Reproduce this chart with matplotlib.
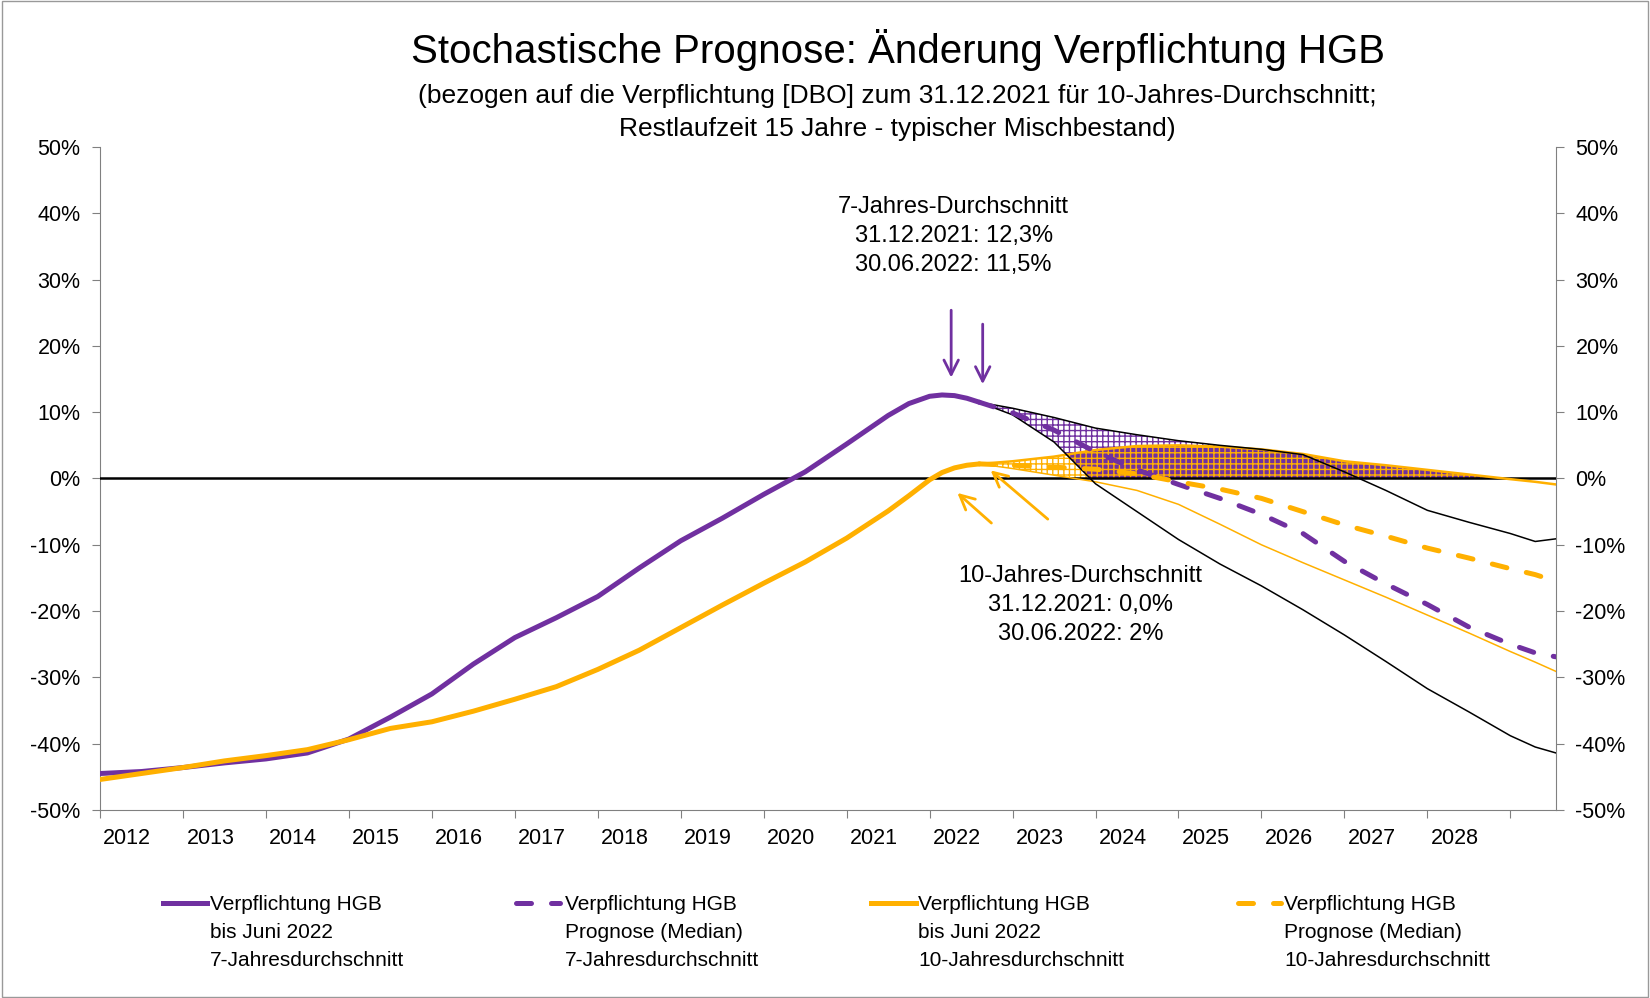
import numpy as np
import matplotlib
matplotlib.use("Agg")
import matplotlib.pyplot as plt
from matplotlib.lines import Line2D
from matplotlib.patches import Rectangle
from matplotlib.ticker import FuncFormatter

plt.rcParams['font.family'] = ['Liberation Sans', 'DejaVu Sans']
plt.rcParams['hatch.linewidth'] = 1.0

PURPLE = '#7030A0'
ORANGE = '#FFB000'

# history up to June 2022 (year, change in %)
hist_x = [2012.0, 2012.5, 2013.0, 2013.5, 2014.0, 2014.5, 2015.0, 2015.5, 2016.0,
          2016.5, 2017.0, 2017.5, 2018.0, 2018.5, 2019.0, 2019.5, 2020.0, 2020.5,
          2021.0, 2021.5, 2021.75, 2022.0, 2022.15, 2022.3, 2022.45, 2022.6]
hist_7 = [-44.5, -44.2, -43.6, -42.9, -42.3, -41.4, -39.3, -36.0, -32.5,
          -28.0, -24.0, -21.0, -17.8, -13.5, -9.4, -6.0, -2.4, 1.0,
          5.2, 9.5, 11.3, 12.4, 12.6, 12.5, 12.1, 11.5]
hist_10 = [-45.4, -44.5, -43.6, -42.6, -41.8, -40.9, -39.4, -37.7, -36.7,
           -35.1, -33.3, -31.4, -28.8, -25.9, -22.5, -19.1, -15.8, -12.6,
           -9.0, -4.9, -2.6, -0.2, 0.9, 1.6, 2.0, 2.2]

# stochastic forecast
fc_x = [2022.6, 2023.0, 2023.5, 2024.0, 2024.5, 2025.0, 2025.5, 2026.0, 2026.5,
        2027.0, 2027.5, 2028.0, 2028.5, 2029.0, 2029.3, 2029.55]
med_7 = [11.5, 9.9, 7.3, 4.0, 1.3, -0.9, -3.0, -5.4, -8.3,
         -12.5, -15.9, -19.0, -22.4, -25.0, -26.3, -26.9]
up_7 = [11.5, 10.6, 9.2, 7.6, 6.6, 5.7, 5.0, 4.4, 3.6,
        1.0, -1.8, -4.8, -6.6, -8.3, -9.5, -9.1]
low_7 = [11.5, 9.6, 5.5, -0.8, -5.0, -9.2, -12.9, -16.2, -19.8,
         -23.6, -27.6, -31.7, -35.2, -38.8, -40.5, -41.4]
med_10 = [2.2, 2.0, 1.7, 1.4, 0.7, -0.5, -1.6, -3.0, -5.0,
          -7.0, -8.7, -10.5, -12.0, -13.6, -14.5, -15.5]
up_10 = [2.2, 2.6, 3.3, 4.3, 4.9, 5.0, 4.8, 4.4, 3.7,
         2.6, 2.0, 1.3, 0.6, -0.1, -0.5, -0.9]
low_10 = [2.2, 1.5, 0.5, -0.5, -1.8, -3.9, -6.9, -10.0, -12.7,
          -15.3, -17.9, -20.6, -23.3, -26.1, -27.7, -29.1]

years = list(range(2012, 2029))
yticks = list(range(-50, 51, 10))

fig = plt.figure(figsize=(16.5, 9.98), dpi=100)
ax = fig.add_axes([0.0606, 0.1884, 0.8824, 0.6643])

def above_zero():
    return Rectangle((2000, 0), 40, 100, transform=ax.transData)

# purple band (7 years), hatched, only above zero
band7 = ax.fill_between(fc_x, low_7, up_7, facecolor='none', edgecolor=PURPLE,
                        hatch='+++', linewidth=0, zorder=2)
band7.set_clip_path(above_zero())
# where both bands overlap -> solid purple under the orange grid
ov = ax.fill_between(fc_x, low_7, up_10, where=np.array(up_10) > np.array(low_7),
                     interpolate=True, facecolor=PURPLE, linewidth=0, zorder=2.1)
ov.set_clip_path(above_zero())
band10 = ax.fill_between(fc_x, low_10, up_10, facecolor='none', edgecolor=ORANGE,
                         hatch='+++', linewidth=0, zorder=2.2)
band10.set_clip_path(above_zero())

ax.axhline(0, color='black', lw=1.8, zorder=3)

ax.plot(fc_x, up_10, color=ORANGE, lw=1.8, zorder=3.5)
ax.plot(fc_x, low_10, color=ORANGE, lw=1.1, zorder=3.5)
ax.plot(fc_x, up_7, color='black', lw=1.1, zorder=3.6)
ax.plot(fc_x, low_7, color='black', lw=1.1, zorder=3.6)

ax.plot(hist_x, hist_7, color=PURPLE, lw=3.6, solid_capstyle='round', zorder=5)
ax.plot(hist_x, hist_10, color=ORANGE, lw=3.6, solid_capstyle='round', zorder=5)
ax.plot(fc_x, med_7, color=PURPLE, lw=3.6, ls=(0, (3, 4)), dash_capstyle='round', zorder=4)
ax.plot(fc_x, med_10, color=ORANGE, lw=3.6, ls=(0, (3, 4)), dash_capstyle='round', zorder=4)

# arrows
arr = dict(arrowstyle='->', lw=2, mutation_scale=26)
ax.annotate('', xy=(2022.26, 14.8), xytext=(2022.26, 25.8),
            arrowprops=dict(arr, color=PURPLE))
ax.annotate('', xy=(2022.64, 13.8), xytext=(2022.64, 23.7),
            arrowprops=dict(arr, color=PURPLE))
ax.annotate('', xy=(2022.31, -1.9), xytext=(2022.77, -7.0),
            arrowprops=dict(arr, color=ORANGE))
ax.annotate('', xy=(2022.71, 1.5), xytext=(2023.45, -6.4),
            arrowprops=dict(arr, color=ORANGE))

ax.text(2022.29, 36.6, '7-Jahres-Durchschnitt\n31.12.2021: 12,3%\n30.06.2022: 11,5%',
        ha='center', va='center', fontsize=17, linespacing=1.42)
ax.text(2023.82, -19.1, '10-Jahres-Durchschnitt\n31.12.2021: 0,0%\n30.06.2022: 2%',
        ha='center', va='center', fontsize=17, linespacing=1.42)

# axes
ax.set_xlim(2012, 2029.55)
ax.set_ylim(-50, 50)
ax.set_xticks(range(2012, 2030))
ax.set_xticks([y + 0.33 for y in years], minor=True)
ax.set_xticklabels([str(y) for y in years], minor=True)
ax.tick_params(axis='x', which='major', labelbottom=False, length=6, color='#808080')
ax.tick_params(axis='x', which='minor', length=0, pad=13, labelsize=15.5)
ax.set_yticks(yticks)
ax.yaxis.set_major_formatter(FuncFormatter(lambda v, p: f"{int(round(v))}%"))
ax.tick_params(axis='y', which='both', left=True, right=True, labelleft=True,
               labelright=True, length=6, color='#808080', labelsize=15.5, pad=8)
ax.spines['top'].set_visible(False)
for s in ['left', 'right', 'bottom']:
    ax.spines[s].set_color('#808080')

# titles
fig.text(0.544, 0.9494, 'Stochastische Prognose: Änderung Verpflichtung HGB',
         ha='center', va='center', fontsize=29)
fig.text(0.544, 0.9038, '(bezogen auf die Verpflichtung [DBO] zum 31.12.2021 für 10-Jahres-Durchschnitt;',
         ha='center', va='center', fontsize=19)
fig.text(0.544, 0.8703, 'Restlaufzeit 15 Jahre - typischer Mischbestand)',
         ha='center', va='center', fontsize=19)

# legend
leg_items = [
    (PURPLE, '-', 'Verpflichtung HGB\nbis Juni 2022\n7-Jahresdurchschnitt', 0.0988, 0.1255, 0.1273),
    (PURPLE, (0, (3, 4)), 'Verpflichtung HGB\nPrognose (Median)\n7-Jahresdurchschnitt', 0.3127, 0.3394, 0.3424),
    (ORANGE, '-', 'Verpflichtung HGB\nbis Juni 2022\n10-Jahresdurchschnitt', 0.5279, 0.5552, 0.5564),
    (ORANGE, (0, (3, 4)), 'Verpflichtung HGB\nPrognose (Median)\n10-Jahresdurchschnitt', 0.7503, 0.7764, 0.7782),
]
ly = 1 - 903 / 998
for col, ls, txt, x0, x1, tx in leg_items:
    fig.add_artist(Line2D([x0, x1], [ly, ly], transform=fig.transFigure, color=col,
                          lw=3.6, ls=ls, dash_capstyle='round'))
    fig.text(tx, ly + 0.0085, txt, ha='left', va='top', fontsize=15, linespacing=1.6)

fig.add_artist(Rectangle((0.001, 0.001), 0.998, 0.998, transform=fig.transFigure,
                         fill=False, edgecolor='#999999', lw=1))

fig.savefig('out.png', dpi=100)
